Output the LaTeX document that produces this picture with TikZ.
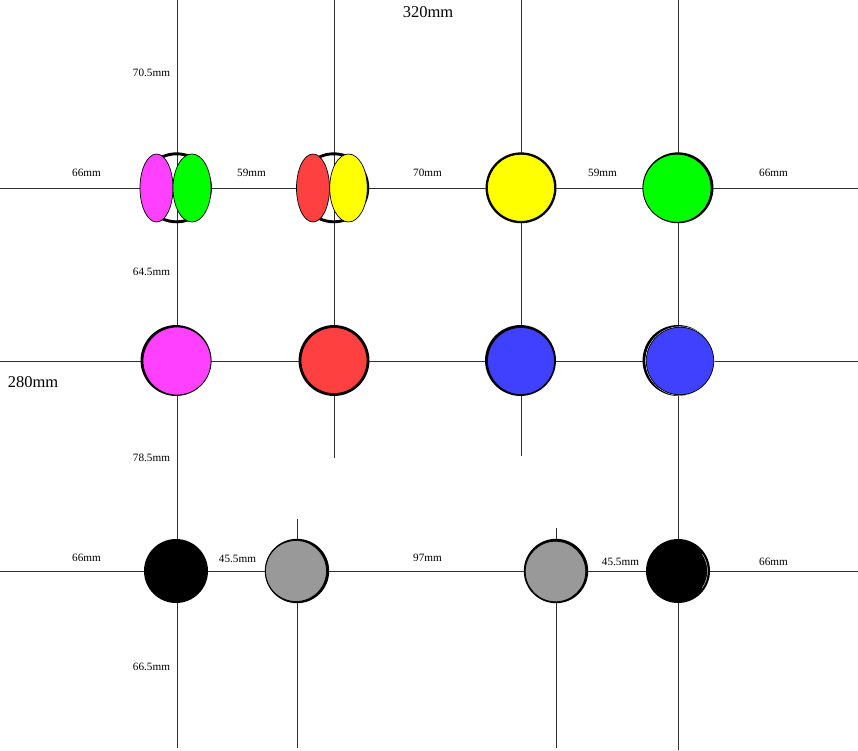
\documentclass[tikz,border=0pt]{standalone}
\usepackage{fontspec}
\setmainfont{Liberation Serif}
\usetikzlibrary{shapes.geometric}
\definecolor{mag}{HTML}{FF40FF}
\definecolor{redc}{HTML}{FF4040}
\definecolor{bluec}{HTML}{4040FF}
\definecolor{grayc}{HTML}{999999}
\definecolor{linec}{HTML}{303030}
\definecolor{yellc}{HTML}{FFFF00}
\definecolor{greenc}{HTML}{00FF00}
\tikzset{
  axis/.style={draw=linec,line width=1pt},
  ring/.style={circle,draw=black,line width=2.9pt,inner sep=0pt,minimum size=#1},
  disc/.style={circle,draw=black,line width=0.7pt,inner sep=0pt,minimum size=#1},
  oval/.style={ellipse,draw=black,line width=0.7pt,inner sep=0pt},
  small/.style={font=\fontsize{11.2}{13}\selectfont,inner sep=0pt,text=black},
  big/.style={font=\fontsize{16.5}{19}\selectfont,inner sep=0pt,text=black},
}
\begin{document}
\begin{tikzpicture}[x=1pt,y=-1pt]
\useasboundingbox (0,0) rectangle (858,750);
% end points of the lines
\coordinate (v1a) at (177,0);   \coordinate (v1b) at (177,748);
\coordinate (v2a) at (334.2,0);   \coordinate (v2b) at (334.2,458);
\coordinate (v3a) at (521.2,0);   \coordinate (v3b) at (521.2,456);
\coordinate (v4a) at (678.2,0);   \coordinate (v4b) at (678.2,750);
\coordinate (v5a) at (297.5,519); \coordinate (v5b) at (297.5,748);
\coordinate (v6a) at (556.2,528); \coordinate (v6b) at (556.2,748);
\coordinate (h1a) at (0,188.2); \coordinate (h1b) at (858,188.2);
\coordinate (h2a) at (0,361); \coordinate (h2b) at (858,361);
\coordinate (h3a) at (0,571.8); \coordinate (h3b) at (858,571.8);
\foreach \n in {v1,v2,v3,v4,v5,v6,h1,h2,h3} \draw[axis] (\n a) -- (\n b);
% row 1
\node[ring=68pt] (r11) at (176.5,187.8) {};
\node[oval,fill=mag,minimum width=33pt,minimum height=68pt] (magoval) at (156.5,188) {};
\node[oval,fill=greenc,minimum width=38pt,minimum height=68pt] (greenoval) at (192,188) {};
\node[ring=68pt] (r12) at (333.8,187.8) {};
\node[oval,fill=redc,minimum width=33pt,minimum height=68pt] (redoval) at (313,188) {};
\node[oval,fill=yellc,minimum width=37.5pt,minimum height=68pt] (yelloval) at (348.5,188) {};
\node[ring=68pt] (r13) at (521,187.8) {};
\node[disc=67pt,fill=yellc] (d13) at (521,187.8) {};
\node[ring=68pt] (r14) at (678,187.8) {};
\node[disc=68pt,fill=greenc] (d14) at (677,188.2) {};
% row 2
\node[ring=68pt] (r21) at (176,360.5) {};
\node[disc=68pt,fill=mag] (d21) at (177,361) {};
\node[ring=68pt] (r22) at (334,360.5) {};
\node[disc=66pt,fill=redc] (d22) at (334,360.5) {};
\node[ring=68pt] (r23) at (520.5,360.5) {};
\node[disc=67pt,fill=bluec] (d23) at (521,361) {};
\node[ring=68pt] (r24) at (678,360.5) {};
\node[circle,draw=white,line width=0.6pt,inner sep=0pt,minimum size=68.5pt] (w24) at (680,361) {};
\node[disc=67.5pt,fill=bluec] (d24) at (680,361) {};
% row 3
\node[circle,fill=black,inner sep=0pt,minimum size=64pt] (d31) at (176,571) {};
\node[ring=61.5pt] (r32) at (297,571) {};
\node[disc=61pt,fill=grayc] (d32) at (296,571) {};
\node[ring=61.5pt] (r33) at (556,571) {};
\node[disc=60.5pt,fill=grayc] (d33) at (555.5,571.5) {};
\node[circle,fill=black,inner sep=0pt,minimum size=64pt] (d34) at (678,571) {};
\draw[white!75!black,line width=0.5pt] (d34.center) ++(-35:29.5) arc[start angle=-35,end angle=35,radius=29.5];
% labels
\node[big] (t320) at (428,12.5) {320mm};
\node[big] (t280) at (33,382) {280mm};
\node[small] (l1) at (151.5,73) {70.5mm};
\node[small] (l2) at (86.5,173) {66mm};
\node[small] (l3) at (251.5,173) {59mm};
\node[small] (l4) at (427.5,173) {70mm};
\node[small] (l5) at (602.5,173) {59mm};
\node[small] (l6) at (773.5,173) {66mm};
\node[small] (l7) at (151.5,272) {64.5mm};
\node[small] (l8) at (151.5,458) {78.5mm};
\node[small] (l9) at (86.5,558) {66mm};
\node[small] (l10) at (237.5,559) {45.5mm};
\node[small] (l11) at (427.5,558) {97mm};
\node[small] (l12) at (620.5,562) {45.5mm};
\node[small] (l13) at (773.5,562) {66mm};
\node[small] (l14) at (151.5,667) {66.5mm};
\end{tikzpicture}
\end{document}
